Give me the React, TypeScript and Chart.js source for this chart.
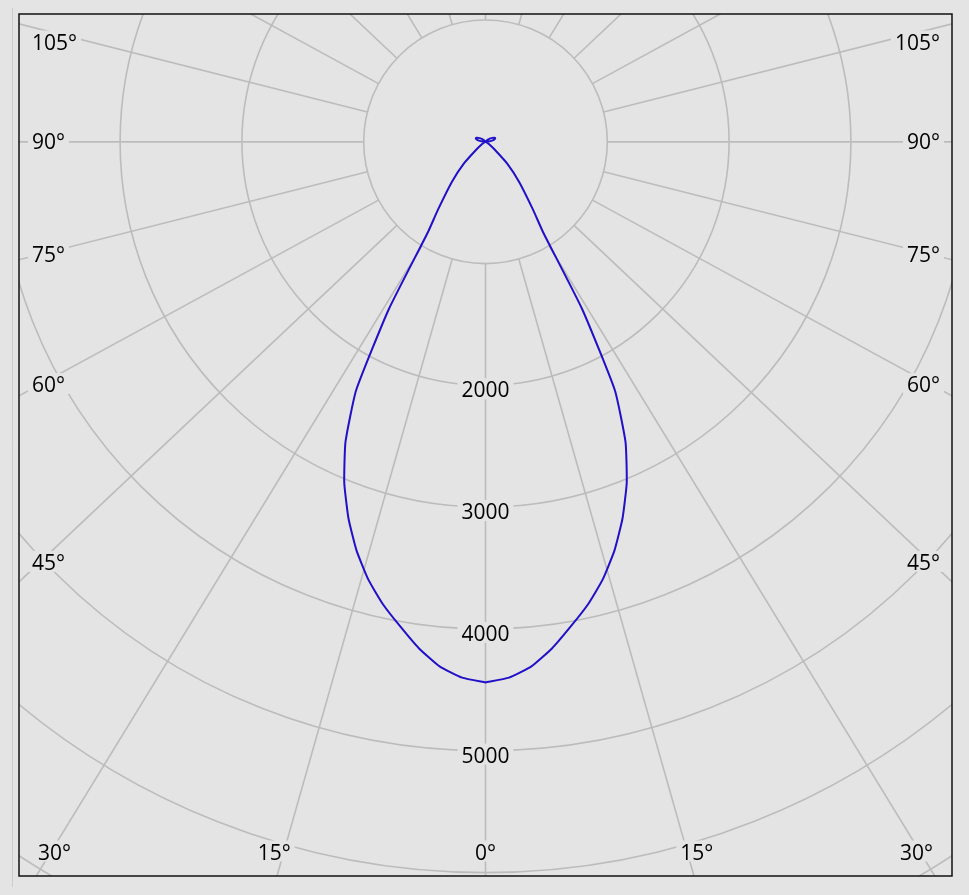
import React, { useEffect, useRef } from 'react';
import { Chart, registerables } from 'chart.js';

Chart.register(...registerables);

// ---- data (luminous intensity, cd, symmetric for both half-planes) ----
const ANGLES_DEG = [0, 2.5, 5, 7.5, 10, 12.5, 15, 17.5, 20, 22.5, 25, 27.5, 30, 32.5, 35, 40, 45, 50, 55, 60, 65, 70, 75, 80, 85, 90, 95, 100, 105, 110, 115, 120, 130, 140, 150, 165, 180];
const INTENSITY_CD = [4440, 4405, 4325, 4195, 4040, 3890, 3720, 3520, 3290, 3030, 2720, 2300, 1590, 880, 680, 430, 250, 95, 45, 22, 12, 7, 4, 2, 1, 0, 25, 55, 75, 85, 80, 65, 35, 15, 5, 0, 0];

const RING_VALUES = [1000, 2000, 3000, 4000, 5000, 6000, 7000, 8000];
const RING_LABELS = [2000, 3000, 4000, 5000];
const ANGLE_LABELS = [0, 15, 30, 45, 60, 75, 90, 105];
const SPOKE_STEP_DEG = 15;

const X_MIN = -3830;
const X_MAX = 3830;
const Y_MIN = -6030;
const Y_MAX = 1050;

// ---- style ----
const BG = '#e4e4e4';
const GRID = '#bcbcbc';
const CURVE = '#2010c8';
const FONT = "21px 'Open Sans', sans-serif";
const SPOKE_ASPECT = 1.06;

const rad = (d: number) => (d * Math.PI) / 180;

function boxedText(ctx: CanvasRenderingContext2D, text: string, x: number, baseline: number, align: 'left' | 'right' | 'center') {
  ctx.font = FONT;
  const w = ctx.measureText(text).width;
  const left = align === 'left' ? x : align === 'right' ? x - w : x - w / 2;
  ctx.fillStyle = BG;
  ctx.fillRect(left - 4, baseline - 19, w + 8, 21);
  ctx.fillStyle = '#000';
  ctx.textAlign = 'left';
  ctx.textBaseline = 'alphabetic';
  ctx.fillText(text, left, baseline);
}

const polarGrid = {
  id: 'polarGrid',
  beforeDraw(chart: any) {
    const { ctx } = chart;
    const a = chart.chartArea;
    ctx.save();
    ctx.fillStyle = BG;
    ctx.fillRect(0, 0, chart.width, chart.height);
    ctx.strokeStyle = '#cdcdcd';
    ctx.lineWidth = 1;
    ctx.beginPath();
    ctx.moveTo(a.left - 6.5, a.top - 6);
    ctx.lineTo(a.left - 6.5, a.bottom + 11);
    ctx.stroke();
    ctx.restore();
  },
  beforeDatasetsDraw(chart: any) {
    const { ctx } = chart;
    const a = chart.chartArea;
    const xs = chart.scales.x;
    const ys = chart.scales.y;
    const cx = xs.getPixelForValue(0);
    const cy = ys.getPixelForValue(0);
    const pr = (v: number) => xs.getPixelForValue(v) - cx;

    ctx.save();
    ctx.beginPath();
    ctx.rect(a.left, a.top, a.right - a.left, a.bottom - a.top);
    ctx.clip();

    ctx.strokeStyle = GRID;
    ctx.lineWidth = 1.6;
    // rings
    RING_VALUES.forEach((v) => {
      ctx.beginPath();
      ctx.arc(cx, cy, pr(v), 0, Math.PI * 2);
      ctx.stroke();
    });
    // spokes
    const r0 = pr(RING_VALUES[0]);
    const rFar = pr(20000);
    for (let d = 0; d < 360; d += SPOKE_STEP_DEG) {
      let dx = Math.sin(rad(d)) * SPOKE_ASPECT;
      let dy = Math.cos(rad(d));
      const n = Math.hypot(dx, dy);
      dx /= n;
      dy /= n;
      ctx.beginPath();
      ctx.moveTo(cx + dx * r0, cy + dy * r0);
      ctx.lineTo(cx + dx * rFar, cy + dy * rFar);
      ctx.stroke();
    }

    // ring labels
    RING_LABELS.forEach((v) => {
      const py = ys.getPixelForValue(-v);
      boxedText(ctx, String(v), cx, py + 12, 'center');
    });

    // angle labels
    ANGLE_LABELS.forEach((deg) => {
      const sides = deg === 0 ? [1] : [-1, 1];
      sides.forEach((s) => {
        const sn = Math.sin(rad(deg));
        const cs = Math.cos(rad(deg));
        const tSide = sn > 1e-9 ? (s < 0 ? cx - a.left : a.right - cx) / sn : Infinity;
        const tBottom = cs > 1e-9 ? (a.bottom - cy) / cs : Infinity;
        const tTop = cs < -1e-9 ? (cy - a.top) / -cs : Infinity;
        const tMin = Math.min(tSide, tBottom, tTop);
        const text = deg + '\u00B0';
        if (tMin === tTop) return;
        if (tMin === tBottom) {
          const yc = a.bottom - 24;
          const off = deg === 0 ? 0 : s * ((yc - cy) * (sn / cs) + 21);
          boxedText(ctx, text, cx + off, yc + 7.5, 'center');
        } else {
          const dist = s < 0 ? cx - (a.left + 46) : a.right - 46 - cx;
          let yc = cy + (dist * cs) / sn;
          yc = Math.max(a.top + 28, Math.min(a.bottom - 40, yc));
          if (s < 0) boxedText(ctx, text, a.left + 13, yc + 7.5, 'left');
          else boxedText(ctx, text, a.right - 12, yc + 7.5, 'right');
        }
      });
    });
    ctx.restore();
  },
  afterDraw(chart: any) {
    const { ctx } = chart;
    const a = chart.chartArea;
    ctx.save();
    ctx.strokeStyle = '#111';
    ctx.lineWidth = 1.5;
    ctx.strokeRect(a.left, a.top, a.right - a.left, a.bottom - a.top);
    ctx.restore();
  },
};

function buildPoints() {
  const leftSide = ANGLES_DEG.map((d, i) => ({
    x: -INTENSITY_CD[i] * Math.sin(rad(d)),
    y: -INTENSITY_CD[i] * Math.cos(rad(d)),
  })).reverse();
  const rightSide = ANGLES_DEG.map((d, i) => ({
    x: INTENSITY_CD[i] * Math.sin(rad(d)),
    y: -INTENSITY_CD[i] * Math.cos(rad(d)),
  }));
  return [...leftSide, ...rightSide];
}

export default function App() {
  const ref = useRef<HTMLCanvasElement | null>(null);
  useEffect(() => {
    if (!ref.current) return;
    const chart = new Chart(ref.current, {
      type: 'scatter',
      data: {
        datasets: [
          {
            data: buildPoints(),
            showLine: true,
            borderColor: CURVE,
            borderWidth: 2,
            pointRadius: 0,
            tension: 0.15,
            fill: false,
          },
        ],
      },
      options: {
        responsive: false,
        animation: false,
        devicePixelRatio: 1,
        events: [],
        layout: { padding: { left: 19, right: 17, top: 14, bottom: 19 } },
        plugins: { legend: { display: false }, tooltip: { enabled: false } },
        scales: {
          x: { type: 'linear', min: X_MIN, max: X_MAX, display: false },
          y: { type: 'linear', min: Y_MIN, max: Y_MAX, display: false },
        },
      },
      plugins: [polarGrid],
    } as any);
    return () => chart.destroy();
  }, []);
  return (
    <div style={{ position: 'absolute', left: 0, top: 0, width: 969, height: 895 }}>
      <canvas ref={ref} width={969} height={895} style={{ display: 'block' }} />
    </div>
  );
}
